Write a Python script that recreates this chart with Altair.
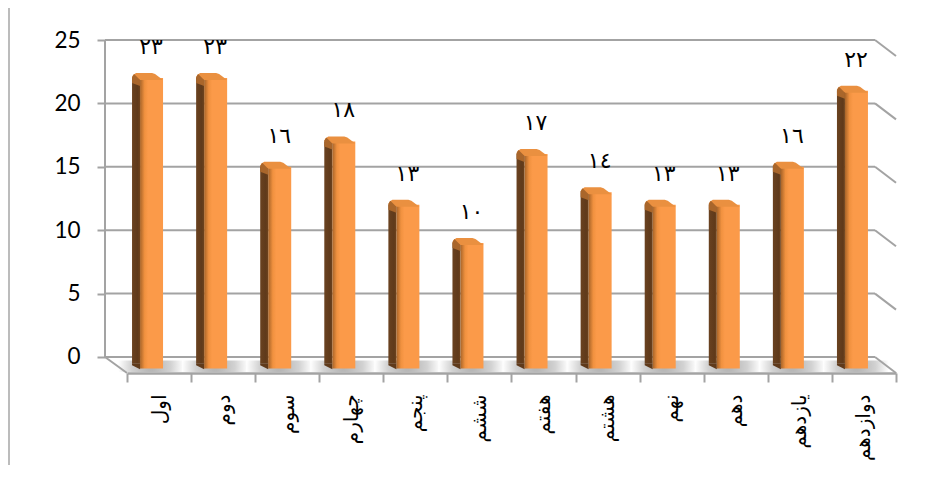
import altair as alt
import pandas as pd

categories = ["اول", "دوم", "سوم", "چهارم", "پنجم", "ششم", "هفتم", "هشتم", "نهم", "دهم", "یازدهم", "دوازدهم"]
values = [22, 22, 15, 17, 12, 9, 16, 13, 12, 12, 15, 21]
value_labels = ["٢٣", "٢٣", "١٦", "١٨", "١٣", "١٠", "١٧", "١٤", "١٣", "١٣", "١٦", "٢٢"]
grid_values = [0, 5, 10, 15, 20, 25]

FLOOR = -1.262
BASE = -0.9
GREY = "#a3a3a3"

df = pd.DataFrame({"cat": categories, "v": values, "label": value_labels})
gdf = pd.DataFrame({"g": grid_values, "g2": [g + FLOOR for g in grid_values]})
wall = pd.DataFrame({"a": [0], "b": [25], "c": [FLOOR]})

xs = alt.Scale(domain=categories, range=[22, 791], paddingInner=0, paddingOuter=0)
ys = alt.Scale(domain=[FLOOR, 25], nice=False, zero=False)
Ax = alt.Axis(tickBand="extent", tickSize=9, tickWidth=2, tickColor=GREY,
              domainColor=GREY, domainWidth=2.5, labelAngle=270, labelAlign="right",
              labelBaseline="middle", labelPadding=12, labelFontSize=20,
              labelFont="DejaVu Sans", labelColor="#000000", grid=False, title=None)
Ay = alt.Axis(values=grid_values, tickSize=8, tickWidth=2, tickColor=GREY, domain=False,
              labelFontSize=22.5, labelFont="Lato", labelColor="#000000", labelPadding=17, grid=False, title=None)
X = alt.X("cat:N", scale=xs, sort=categories, title=None, axis=Ax)
Y = alt.Y("v:Q", scale=ys, title=None, axis=Ay)

def lg(stops):
    return alt.LinearGradient(gradient="linear", x1=0, x2=1, y1=0, y2=0,
        stops=[alt.GradientStop(color=c, offset=o) for o, c in stops])

shadow = alt.Chart(df).mark_bar(
    width=66, xOffset=-8,
    color=alt.RadialGradient(gradient="radial", x1=0.5, y1=0.5, r1=0, x2=0.5, y2=0.5, r2=0.5,
        stops=[alt.GradientStop(color="#b0b0b0", offset=0), alt.GradientStop(color="#d2d2d2", offset=0.6),
               alt.GradientStop(color="#ffffff", offset=1)])
).encode(x=X, y=alt.datum(-0.28, scale=ys, axis=Ay), y2=alt.datum(FLOOR + 0.08))

grid = alt.Chart(gdf).mark_rule(color=GREY, strokeWidth=2).encode(
    y=alt.Y("g:Q", scale=ys, axis=Ay, title=None), x=alt.value(0), x2=alt.value(770))
diag = alt.Chart(gdf).mark_rule(color=GREY, strokeWidth=2).encode(
    y=alt.Y("g:Q", scale=ys, axis=Ay, title=None), y2="g2:Q", x=alt.value(770), x2=alt.value(791))
left_wall = alt.Chart(wall).mark_rule(color=GREY, strokeWidth=2).encode(
    y=alt.Y("a:Q", scale=ys, axis=Ay, title=None), y2="b:Q", x=alt.value(0))
left_floor = alt.Chart(wall).mark_rule(color=GREY, strokeWidth=2).encode(
    y=alt.Y("a:Q", scale=ys, axis=Ay, title=None), y2="c:Q", x=alt.value(0), x2=alt.value(22))
outer = alt.Chart(wall).mark_rule(color="#a6a6a6", strokeWidth=1.5).encode(
    x=alt.value(-96), y=alt.value(-33), y2=alt.value(425))

side = alt.Chart(df).mark_bar(width=8, xOffset=-23,
    color=lg([(0, "#6a4220"), (0.7, "#5f3a1b"), (1, "#6f431c")])).encode(
    x=X, y=Y, y2=alt.datum(-0.5))
side_foot = alt.Chart(df).mark_point(filled=True, size=4, opacity=1, strokeWidth=0, color="#5f3a1b",
    shape="M-27 0 L-19 0 L-19 6 L-27 2 Z").encode(x=X, y=alt.datum(-0.5, scale=ys, axis=Ay))
front = alt.Chart(df).mark_bar(width=23, xOffset=-7.5,
    color=lg([(0, "#a86428"), (0.2, "#f0913f"), (0.35, "#fb9a49"), (1, "#fb9a49")])).encode(
    x=X, y=Y, y2=alt.datum(BASE))
cap = alt.Chart(df).mark_point(filled=True, size=4, opacity=1, strokeWidth=0, color="#ea9040",
    shape="M-26 -3 L-23 -5 L-7 -5 L-4 -4 L4 2 L-19 2 L-27 0 Z").encode(x=X, y=Y)
cap_side = alt.Chart(df).mark_point(filled=True, size=4, opacity=1, strokeWidth=0, color="#a9662b",
    shape="M-27 -1 L-25 -4 L-19 2 L-19 8 L-27 5 Z").encode(x=X, y=Y)

text = alt.Chart(df).mark_text(fontSize=22, font="DejaVu Sans", color="#000000", dy=-31, xOffset=-8).encode(
    x=X, y=Y, text="label:N")

chart = alt.layer(shadow, grid, diag, left_wall, left_floor, outer, side, side_foot, front, cap, cap_side, text
).properties(
    width=791, height=333,
    autosize=alt.AutoSizeParams(type="none", contains="content"),
    padding={"left": 97, "top": 32, "right": 20, "bottom": 110},
).configure_view(stroke=None)

chart.save("out.html", embed_options={"renderer": "svg", "actions": False})
